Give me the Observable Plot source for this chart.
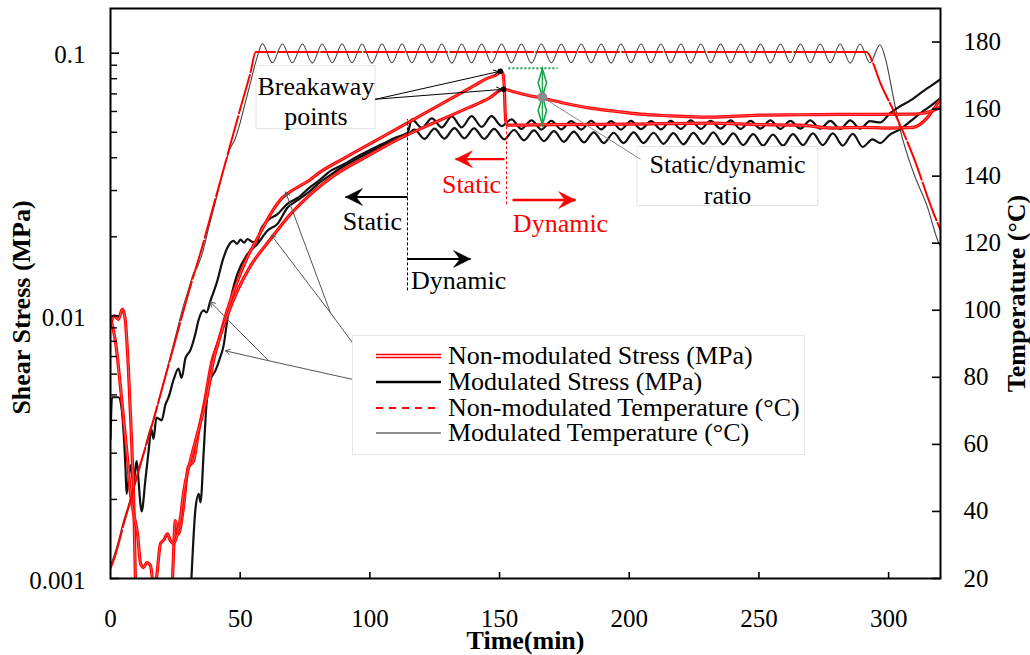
<!DOCTYPE html>
<html><head><meta charset="utf-8">
<script src="https://cdn.jsdelivr.net/npm/d3@7"></script>
<script src="https://cdn.jsdelivr.net/npm/@observablehq/plot@0.6"></script>
<style>
body{margin:0;background:#fff;}
#wrap{position:relative;width:1030px;height:655px;font-family:"Liberation Serif","Times New Roman",serif;color:#000;}
#legend{position:absolute;left:352px;top:335px;width:453px;height:120px;background:#fff;border:1px solid #e6e6e6;box-sizing:border-box;z-index:2;}
#legend .lt{position:absolute;left:95px;height:24px;line-height:24px;font-size:26px;white-space:nowrap;}
</style></head><body><div id="wrap"></div>
<script>
// ---------- axes / ticks ----------
const timeTicks = [0, 50, 100, 150, 200, 250, 300];
const stressTicks = [0.001, 0.01, 0.1];
const stressTickLabels = ["0.001", "0.01", "0.1"];
const stressMinorTicks = [0.002,0.003,0.004,0.005,0.006,0.007,0.008,0.009,0.02,0.03,0.04,0.05,0.06,0.07,0.08,0.09];
const tempTicks = [20, 40, 60, 80, 100, 120, 140, 160, 180];
const timeDomain = [0, 320];
const stressDomain = [0.001, 0.148];
const tempDomain = [20, 190];

// ---------- series (time min, value) ----------
const nonModStressA = [[0,0.0092],[1.5,0.0100],[3.0,0.0097],[4.6,0.0106],[5.6,0.0098],[6.9,0.0063],[8.0,0.0036],[9.0,0.0019],[9.6,0.0010],[10.4,0.0007],[23.0,0.0007],[23.9,0.0010],[25.0,0.00166],[26.2,0.00148],[28.1,0.00186],[30.0,0.00266],[32.0,0.0028],[33.9,0.0036],[36.6,0.0049],[38.9,0.0066],[41.6,0.0080],[45.0,0.0105],[49.0,0.0136],[52.5,0.0165],[56.7,0.0198],[61.7,0.0244],[66,0.0280],[70,0.0300],[77,0.0330],[80,0.0348],[90,0.0398],[100,0.0452],[110,0.0513],[120,0.0582],[130,0.0661],[140,0.0751],[145,0.0800],[149.6,0.0839],[150.3,0.0854],[151.2,0.0840],[151.8,0.0750],[152.1,0.0620],[152.4,0.0550],[153.2,0.0532],[170,0.0535],[200,0.0537],[231,0.0542],[250,0.0535],[266,0.0532],[278,0.0519],[290,0.0522],[300,0.0519],[309.6,0.0522],[312,0.0535],[315,0.0570],[318,0.0625],[320,0.0668]];
const nonModStressB = [[0,0.0098],[1.9,0.0080],[3.5,0.0058],[5.0,0.0041],[6.5,0.0029],[7.7,0.0021],[8.9,0.00177],[10.4,0.00148],[11.6,0.00114],[12.7,0.0011],[14,0.00115],[15.4,0.00112],[16.6,0.00095],[17.5,0.00098],[19.3,0.00136],[20.5,0.0014],[22,0.00148],[23.1,0.00139],[24.3,0.00136],[25.8,0.00148],[27,0.00171],[28.1,0.0021],[30.8,0.00281],[33.5,0.00356],[37.4,0.00505],[39.7,0.00675],[42,0.0082],[45,0.0100],[49,0.0125],[54,0.0155],[61.7,0.0196],[69.4,0.0244],[73.2,0.0267],[86,0.0341],[99.1,0.0406],[111.8,0.0475],[124.5,0.0542],[137.6,0.0618],[146,0.0674],[151.5,0.0729],[155,0.0715],[160,0.0695],[166.5,0.0674],[175,0.0645],[185,0.0618],[195,0.0600],[204.3,0.0586],[215,0.0578],[231.3,0.0571],[240,0.0575],[250.6,0.0581],[266,0.0583],[280,0.0585],[295,0.0585],[309.6,0.0586],[314,0.0592],[317,0.0605],[320,0.0625]];
const modStressC = [[0,0.0034],[0.6,0.0049],[3.1,0.0049],[4.2,0.0045],[5.8,0.0026],[6.2,0.0021],[7.7,0.0027],[8.9,0.0023],[10.0,0.0028],[11.6,0.0019],[12.0,0.0018],[13.5,0.0024],[14.6,0.0030],[15.8,0.0037],[16.6,0.0034],[17.7,0.0041],[19.7,0.0040],[21.2,0.0046],[22.4,0.0049],[24.3,0.0057],[26.2,0.0063],[27.4,0.0058],[28.9,0.0069],[30.8,0.0074],[32.8,0.0086],[33.9,0.0096],[35.9,0.0105],[37.0,0.0103],[38.5,0.0114],[41.2,0.0136],[43.2,0.0162],[45.1,0.0182],[47.4,0.0193],[48.8,0.0188],[50.1,0.0195],[51.5,0.0190],[52.8,0.0196],[55,0.0191],[56.7,0.0193],[57.8,0.0211],[60.5,0.0230],[64.4,0.0244],[68.2,0.0267],[72.1,0.0281],[77.1,0.0310],[80,0.0325],[85,0.0357],[90,0.0378],[95,0.0404],[100,0.0428],[105,0.0452],[110,0.0478],[114.5,0.0497],
[116.2,0.0560],[120.0,0.0520],[123.9,0.0565],[127.7,0.0522],[131.6,0.0575],[135.4,0.0522],[139.2,0.0576],[143.1,0.0524],[146.9,0.0576],[150.8,0.0528],[154.6,0.0560],[158.4,0.0515],[162.3,0.0555],[166.1,0.0512],[170.0,0.0553],[173.8,0.0513],[177.6,0.0551],[181.5,0.0512],[185.3,0.0553],[189.2,0.0513],[193.0,0.0551],[196.8,0.0512],[200.7,0.0553],[204.5,0.0514],[208.4,0.0551],[212.2,0.0513],[216.0,0.0553],[219.9,0.0515],[223.7,0.0555],[227.6,0.0515],[231.4,0.0553],[235.2,0.0516],[239.1,0.0555],[242.9,0.0515],[246.8,0.0553],[250.6,0.0516],[254.4,0.0555],[258.3,0.0515],[262.1,0.0553],[266.0,0.0516],[269.8,0.0555],[273.6,0.0516],[277.5,0.0553],[281.3,0.0515],[285.2,0.0555],[289.0,0.0516],[292.8,0.0551],[296.7,0.0545],[300.5,0.0590],[304.5,0.0629],[308.3,0.0660],[312.3,0.0705],[316.2,0.0750],[320,0.0796]];
const modStressD = [[30.5,0.0007],[31.2,0.0010],[32.8,0.00186],[34.0,0.0021],[34.7,0.00195],[35.9,0.0030],[37.0,0.0046],[38.5,0.0057],[40.5,0.0062],[42.4,0.0070],[43.6,0.0077],[44.6,0.0090],[45.5,0.0104],[47.0,0.0124],[49,0.0145],[52.8,0.0172],[56.7,0.0188],[60.5,0.0211],[64.4,0.0224],[68.2,0.0258],[72,0.0275],[77.1,0.0300],[80,0.0318],[85,0.0345],[90,0.0372],[95,0.0396],[100,0.0420],[105,0.0445],[110,0.0468],[114.5,0.0488],
[117.2,0.0512],[121.0,0.0472],[124.9,0.0516],[128.7,0.0473],[132.6,0.0519],[136.4,0.0474],[140.2,0.0517],[144.1,0.0472],[147.9,0.0515],[151.8,0.0470],[155.6,0.0510],[159.4,0.0466],[163.3,0.0508],[167.1,0.0463],[171.0,0.0505],[174.8,0.0460],[178.6,0.0503],[182.5,0.0458],[186.3,0.0500],[190.2,0.0455],[194.0,0.0498],[197.8,0.0455],[201.7,0.0500],[205.5,0.0455],[209.4,0.0498],[213.2,0.0452],[217.0,0.0496],[220.9,0.0450],[224.7,0.0497],[228.6,0.0452],[232.4,0.0500],[236.2,0.0450],[240.1,0.0495],[243.9,0.0447],[247.8,0.0492],[251.6,0.0445],[255.4,0.0490],[259.3,0.0445],[263.1,0.0492],[267.0,0.0447],[270.8,0.0495],[274.6,0.0447],[278.5,0.0495],[282.3,0.0445],[286.2,0.0493],[290.0,0.0440],[293.8,0.0470],[296.7,0.0455],[300.5,0.0490],[304.5,0.0514],[308.3,0.0550],[312.3,0.0592],[316.2,0.0630],[320,0.0674]];
const nonModTemp = [[0,23],[1,25],[3,30],[5,36],[8,44],[10,50],[15,63],[20,77],[25,91],[30,105],[35,118],[40,132],[45,146],[50,160],[54,171],[56,177],[291.5,177],[294,173.7],[296.8,167.8],[301.8,159.7],[309.6,145.7],[317.3,129],[320,124]];
const modTemp = [[0,24],[1,26],[3,31],[5,37],[7,42],[9,47],[11,52],[13,58],[15,64],[17,68],[19,74],[22,83],[25,92],[28,101],[30,106],[32,111],[33.5,113],[35,116],[38,125],[41,134],[44,143],[46,148],[48,151],[50,156],[52,162],[54,168],[56,174],[58.6,179.5],
[62.4,173.8],[66.3,179.4],[70.1,173.8],[74.0,179.4],[77.8,173.7],[81.6,179.4],[85.5,173.8],[89.3,179.4],[93.1,173.8],[97.0,179.4],[100.8,173.7],[104.7,179.4],[108.5,173.8],[112.4,179.4],[116.2,173.8],[120.0,179.4],[123.9,173.8],[127.7,179.4],[131.6,173.7],[135.4,179.4],[139.2,173.8],[143.1,179.4],[146.9,173.8],[150.8,179.4],[154.6,173.8],[158.4,179.4],[162.3,173.7],[166.1,179.4],[170.0,173.8],[173.8,179.4],[177.6,173.8],[181.5,179.4],[185.3,173.8],[189.2,179.4],[193.0,173.7],[196.8,179.4],[200.7,173.8],[204.5,179.4],[208.4,173.8],[212.2,179.4],[216.0,173.8],[219.9,179.4],[223.7,173.7],[227.6,179.4],[231.4,173.8],[235.2,179.4],[239.1,173.8],[242.9,179.4],[246.8,173.8],[250.6,179.4],[254.4,173.7],[258.3,179.4],[262.1,173.8],[266.0,179.4],[269.8,173.8],[273.6,179.4],[277.5,173.8],[281.3,179.4],[285.2,173.7],[289.0,179.4],[292.8,173.8],[296.7,179.2],[298.8,175],[301.8,163.6],[304.5,153.7],[309.6,141],[315,130.7],[319.2,120.3],[320,119]];

// ---------- legend + annotation texts / anchors (time, stress) ----------
const legendLabels = ["Non-modulated Stress (MPa)", "Modulated Stress (MPa)", "Non-modulated Temperature (\u00B0C)", "Modulated Temperature (\u00B0C)"];
const axisTitles = {x: "Time(min)", y: "Shear Stress (MPa)", y2: "Temperature (\u00B0C)"};
const breakawayBox = [{x1: 56.3, x2: 102.2, y1: 0.0514, y2: 0.0893}];
const breakawayLabel = [{t: 79.2, s: 0.0663, text: "Breakaway\npoints"}];
const breakawayFrom = {t: 102.2, s: 0.0668};
const ratioBox = [{x1: 203.2, x2: 272.9, y1: 0.0262, y2: 0.0439}];
const ratioLabel = [{t: 237.9, s: 0.0333, text: "Static/dynamic\nratio"}];
const ratioPoint = {t: 166.5, s: 0.068};
const ratioTop = 0.0877, ratioBottom = 0.0537;
const ratioDotted = {t1: 153.4, t2: 172.3};
const ratioLeader = {t: 204.3, s: 0.0395};
const blackSplit = {t: 114.5, s1: 0.0125, s2: 0.0561};
const blackStaticArrow = {t1: 114.5, t2: 90.6, s: 0.02835};
const blackDynamicArrow = {t1: 114.5, t2: 138.8, s: 0.01647};
const blackTexts = [{t: 101, s: 0.02278, text: "Static"}, {t: 134.2, s: 0.01358, text: "Dynamic"}];
const redSplit = {t: 152.7, s1: 0.0266, s2: 0.0528};
const redStaticArrow = {t1: 151.9, t2: 133, s: 0.0395};
const redDynamicArrow = {t1: 155, t2: 179.3, s: 0.0276};
const redTexts = [{t: 139.2, s: 0.0315, text: "Static"}, {t: 173.5, s: 0.0224, text: "Dynamic"}];
const nonModCallout = {from: {t: 95.6, s: 0.00736}, hub: {t: 84.8, s: 0.01027}, tips: [{t: 67.5, s: 0.0296}, {t: 62.0, s: 0.0203}]};
const modCallout = {from: {t: 97.5, s: 0.00561}, hub: {t: 60.9, s: 0.00675}, tips: [{t: 38.5, s: 0.0113}, {t: 44.3, s: 0.00736}]};

// ---------- helpers ----------
const L0 = Math.log10(stressDomain[0]), L1 = Math.log10(stressDomain[1]);
const tempToStress = T => Math.pow(10, L0 + (T - tempDomain[0]) / (tempDomain[1] - tempDomain[0]) * (L1 - L0));
const pts = arr => arr.map(([t, s]) => ({t, s}));
const tpts = arr => arr.map(([t, T]) => ({t, s: tempToStress(T)}));
const peakOf = arr => { let m = arr[0]; for (const p of arr) if (p[1] > m[1]) m = p; return {t: m[0], s: m[1]}; };
const peakA = peakOf(nonModStressA), peakB = peakOf(nonModStressB);

const symRight = {draw(c, size){const r = Math.sqrt(size/Math.PI); c.moveTo(0,0); c.lineTo(-r,-0.5*r); c.lineTo(-0.62*r,0); c.lineTo(-r,0.5*r); c.closePath();}};
const symLeft = {draw(c, size){const r = Math.sqrt(size/Math.PI); c.moveTo(0,0); c.lineTo(r,-0.5*r); c.lineTo(0.62*r,0); c.lineTo(r,0.5*r); c.closePath();}};
const symDiamond = {draw(c, size){const r = Math.sqrt(size/Math.PI); c.moveTo(0,-r); c.lineTo(0.3*r,0); c.lineTo(0,r); c.lineTo(-0.3*r,0); c.closePath();}};

const FF = "'Liberation Serif','Times New Roman',serif";
const xy = {x: "t", y: "s"};
const TXT = {textAnchor: "middle", lineAnchor: "middle", fill: "#000"};

const shaft = (a, color, w) => Plot.link([a], {x1: "t1", x2: "t2", y1: "s", y2: "s", stroke: color, strokeWidth: w});
const head = (a, color, sym) => Plot.dot([a], {x: "t2", y: "s", r: 17, symbol: sym, fill: color, stroke: color, strokeWidth: 0.5});

const chart = Plot.plot({
  width: 1030, height: 655,
  marginLeft: 110, marginRight: 90, marginTop: 8, marginBottom: 77,
  style: {fontFamily: FF, background: "#fff", color: "#000", overflow: "visible"},
  x: {domain: timeDomain, axis: null},
  y: {type: "log", domain: stressDomain, axis: null},
  marks: [
    // data lines
    Plot.line(tpts(modTemp), {...xy, stroke: "#444", strokeWidth: 1.1, curve: "monotone-x", clip: true}),
    Plot.line(pts(modStressC), {...xy, stroke: "#111", strokeWidth: 2.2, curve: "monotone-x", clip: true}),
    Plot.line(pts(modStressD), {...xy, stroke: "#111", strokeWidth: 2.2, curve: "monotone-x", clip: true}),
    Plot.line(pts(nonModStressA), {...xy, stroke: "#ff0000", strokeWidth: 3.2, curve: "monotone-x", clip: true}),
    Plot.line(pts(nonModStressA), {...xy, stroke: "#ff7070", strokeWidth: 0.8, curve: "monotone-x", clip: true}),
    Plot.line(pts(nonModStressB), {...xy, stroke: "#ff0000", strokeWidth: 3.2, curve: "monotone-x", clip: true}),
    Plot.line(pts(nonModStressB), {...xy, stroke: "#ff7070", strokeWidth: 0.8, curve: "monotone-x", clip: true}),
    Plot.line(tpts(nonModTemp), {...xy, stroke: "#ff0000", strokeWidth: 2, strokeDasharray: "40,3", curve: "monotone-x", clip: true}),

    // frame and inward ticks
    Plot.frame({stroke: "#000", strokeWidth: 2}),
    Plot.ruleY(stressTicks, {y: d => d, x1: timeDomain[0], x2: timeDomain[0], insetRight: -9, stroke: "#000", strokeWidth: 1.6}),
    Plot.ruleY(stressMinorTicks, {y: d => d, x1: timeDomain[0], x2: timeDomain[0], insetRight: -7, stroke: "#000", strokeWidth: 1.4}),
    Plot.ruleY(tempTicks, {y: T => tempToStress(T), x1: timeDomain[1], x2: timeDomain[1], insetLeft: -8, stroke: "#000", strokeWidth: 1.6}),
    Plot.ruleX(timeTicks.slice(1), {x: d => d, y1: stressDomain[0], y2: stressDomain[0], insetBottom: 6, stroke: "#000", strokeWidth: 1.6}),

    // tick labels
    Plot.text(stressTicks, {y: d => d, text: (d, i) => stressTickLabels[i], frameAnchor: "left", dx: -25, dy: 2, textAnchor: "end", lineAnchor: "middle", fontSize: 25, fill: "#000"}),
    Plot.text(tempTicks, {y: T => tempToStress(T), text: T => String(T), frameAnchor: "right", dx: 23, textAnchor: "start", lineAnchor: "middle", fontSize: 25, fill: "#000"}),
    Plot.text(timeTicks, {x: d => d, text: d => String(d), frameAnchor: "bottom", dy: 40, ...TXT, fontSize: 25}),
    Plot.text([axisTitles.x], {text: d => d, frameAnchor: "bottom", dy: 62, ...TXT, fontSize: 26, fontWeight: "bold"}),
    Plot.text([axisTitles.y], {text: d => d, frameAnchor: "left", dx: -89, dy: 14, rotate: -90, ...TXT, fontSize: 26, fontWeight: "bold"}),
    Plot.text([axisTitles.y2], {text: d => d, frameAnchor: "right", dx: 76, rotate: -90, ...TXT, fontSize: 26, fontWeight: "bold"}),

    // Static / Dynamic dividers (black)
    Plot.link([blackSplit], {x1: "t", x2: "t", y1: "s1", y2: "s2", stroke: "#000", strokeWidth: 1, strokeDasharray: "3,2"}),
    shaft(blackStaticArrow, "#000", 2), head(blackStaticArrow, "#000", symLeft),
    shaft(blackDynamicArrow, "#000", 2), head(blackDynamicArrow, "#000", symRight),
    Plot.text(blackTexts, {...xy, text: "text", fontSize: 26, ...TXT}),
    // red
    Plot.link([redSplit], {x1: "t", x2: "t", y1: "s1", y2: "s2", stroke: "#ff0000", strokeWidth: 1, strokeDasharray: "3,2"}),
    shaft(redStaticArrow, "#ff0000", 2.4), head(redStaticArrow, "#ff0000", symLeft),
    shaft(redDynamicArrow, "#ff0000", 2.4), head(redDynamicArrow, "#ff0000", symRight),
    Plot.text(redTexts, {...xy, text: "text", fontSize: 26, ...TXT, fill: "#ff0000"}),

    // breakaway annotation
    Plot.rect(breakawayBox, {x1: "x1", x2: "x2", y1: "y1", y2: "y2", fill: "#fff", stroke: "#e2e2e2"}),
    Plot.text(breakawayLabel, {...xy, text: "text", fontSize: 26, lineHeight: 1.15, ...TXT}),
    Plot.arrow([peakA, peakB], {x1: () => breakawayFrom.t, y1: () => breakawayFrom.s, x2: "t", y2: "s", stroke: "#000", strokeWidth: 1, headLength: 8, insetEnd: 2}),
    Plot.dot([peakA, peakB], {...xy, r: 2.8, fill: "#000"}),

    // static/dynamic ratio annotation
    Plot.link([ratioDotted], {x1: "t1", x2: "t2", y1: () => ratioTop, y2: () => ratioTop, stroke: "#1aa34a", strokeWidth: 2, strokeDasharray: "2,2"}),
    Plot.link([ratioPoint], {x1: "t", x2: "t", y1: () => ratioTop, y2: () => ratioBottom, stroke: "#1aa34a", strokeWidth: 1.3}),
    Plot.dot([{t: ratioPoint.t, s: Math.sqrt(ratioTop * ratioPoint.s)}, {t: ratioPoint.t, s: Math.sqrt(ratioBottom * ratioPoint.s)}], {...xy, r: 14, symbol: symDiamond, fill: "none", stroke: "#1aa34a", strokeWidth: 1.6}),
    Plot.rect(ratioBox, {x1: "x1", x2: "x2", y1: "y1", y2: "y2", fill: "#fff", stroke: "#e2e2e2"}),
    Plot.link([ratioPoint], {x1: "t", y1: "s", x2: () => ratioLeader.t, y2: () => ratioLeader.s, stroke: "#8a8a8a", strokeWidth: 1}),
    Plot.dot([ratioPoint], {...xy, r: 5, fill: "#8c8c8c"}),
    Plot.text(ratioLabel, {...xy, text: "text", fontSize: 26, lineHeight: 1.19, ...TXT}),

    // legend callouts
    Plot.link([nonModCallout], {x1: d => d.from.t, y1: d => d.from.s, x2: d => d.hub.t, y2: d => d.hub.s, stroke: "#555", strokeWidth: 1}),
    Plot.arrow(nonModCallout.tips, {x1: () => nonModCallout.hub.t, y1: () => nonModCallout.hub.s, x2: "t", y2: "s", stroke: "#555", strokeWidth: 1, headLength: 8}),
    Plot.link([modCallout], {x1: d => d.from.t, y1: d => d.from.s, x2: d => d.hub.t, y2: d => d.hub.s, stroke: "#555", strokeWidth: 1}),
    Plot.arrow(modCallout.tips, {x1: () => modCallout.hub.t, y1: () => modCallout.hub.s, x2: "t", y2: "s", stroke: "#555", strokeWidth: 1, headLength: 8})
  ]
});

const wrap = document.getElementById("wrap");
wrap.appendChild(chart);

// legend (inside plot area, HTML overlay)
const legend = document.createElement("div");
legend.id = "legend";
const rowsY = [20, 46, 72, 97];
let sv = `<svg width="453" height="120" style="position:absolute;left:0;top:0">`;
sv += `<line x1="23" x2="88" y1="${rowsY[0]}" y2="${rowsY[0]}" stroke="#ff0000" stroke-width="4.4"/>`;
sv += `<line x1="23" x2="88" y1="${rowsY[0]}" y2="${rowsY[0]}" stroke="#fff" stroke-width="1.5"/>`;
sv += `<line x1="23" x2="88" y1="${rowsY[1]}" y2="${rowsY[1]}" stroke="#000" stroke-width="2.4"/>`;
sv += `<line x1="23" x2="88" y1="${rowsY[2]}" y2="${rowsY[2]}" stroke="#ff0000" stroke-width="2" stroke-dasharray="7,6"/>`;
sv += `<line x1="23" x2="88" y1="${rowsY[3]}" y2="${rowsY[3]}" stroke="#222" stroke-width="1.2"/>`;
sv += `</svg>`;
legend.innerHTML = sv + legendLabels.map((l, i) => `<div class="lt" style="top:${rowsY[i] - 12}px">${l}</div>`).join("");
wrap.appendChild(legend);
</script></body></html>
